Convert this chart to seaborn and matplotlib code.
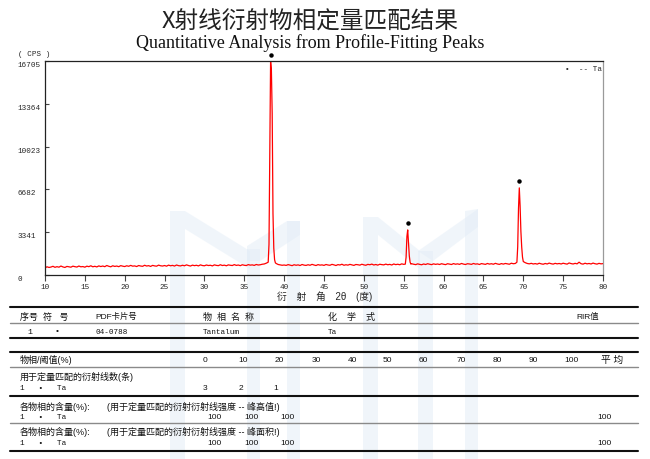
import numpy as np
import pandas as pd
import matplotlib
matplotlib.use('Agg')
import matplotlib.pyplot as plt
import matplotlib.transforms as mtransforms
from matplotlib.lines import Line2D
from matplotlib.patches import Polygon
import seaborn as sns

W, H = 650, 460

# background counts, one value every 0.25 deg (2theta) from 10 to 80
background_cps = [
    560, 640, 590, 620, 680, 600, 650, 610, 700, 630, 590, 670, 640, 610, 690, 650, 620, 700, 640, 660,
    610, 690, 650, 720, 640, 680, 630, 710, 660, 700, 650, 740, 680, 640, 720, 670, 700, 650, 730, 690,
    660, 720, 680, 750, 690, 710, 660, 740, 700, 680, 760, 700, 730, 670, 750, 710, 690, 770, 720, 700,
    740, 690, 770, 720, 750, 700, 780, 730, 710, 760, 720, 790, 740, 700, 770, 730, 760, 710, 790, 740,
    720, 780, 740, 760, 710, 790, 750, 730, 800, 740, 770, 720, 790, 760, 740, 810, 750, 780, 730, 800,
    760, 740, 810, 770, 790, 750, 820, 780, 800, 840, 860, 920, 1000, 1000, 1000, 1000, 900, 820, 790, 760,
    780, 750, 810, 770, 730, 800, 760, 790, 740, 820, 770, 750, 800, 760, 830, 780, 740, 810, 770, 790,
    750, 820, 780, 760, 830, 790, 740, 810, 780, 840, 760, 800, 770, 830, 790, 750, 820, 800, 770, 840,
    790, 760, 830, 800, 850, 780, 820, 770, 840, 810, 790, 850, 800, 830, 780, 860, 810, 840, 800, 870,
    830, 900, 900, 900, 880, 840, 810, 870, 830, 800, 860, 820, 880, 840, 810, 870, 830, 860, 820, 880,
    840, 810, 880, 850, 820, 890, 840, 870, 830, 900, 850, 820, 880, 860, 830, 900, 850, 870, 820, 890,
    860, 830, 900, 850, 880, 840, 910, 860, 830, 890, 850, 900, 870, 840, 920, 880, 900, 900, 900, 900,
    900, 960, 900, 870, 910, 860, 890, 850, 920, 870, 840, 900, 860, 930, 880, 850, 910, 870, 900, 860,
    920, 880, 850, 940, 890, 860, 910, 870, 1000, 880, 850, 920, 870, 900, 860, 930, 880, 850, 910, 870, 890,
]

# Ta peaks
peak1_2theta = [38.0, 38.1, 38.2, 38.3, 38.4, 38.5, 38.6, 38.7, 38.8, 38.9]
peak1_cps = [1000, 2400, 9300, 16705, 16000, 12600, 4800, 2100, 1200, 950]
peak2_2theta = [55.2, 55.3, 55.4, 55.5, 55.6, 55.7, 55.8, 55.9]
peak2_cps = [850, 1400, 3000, 3520, 2500, 1500, 1000, 850]
peak3_2theta = [69.2, 69.3, 69.4, 69.5, 69.6, 69.7, 69.8, 69.9, 70.0]
peak3_cps = [1000, 2200, 5200, 6800, 5400, 3400, 2200, 1400, 1050]

mark_2theta = [38.3, 55.5, 69.5]
mark_cps = [16705, 3520, 6800]

y_ticks = [0, 3341, 6682, 10023, 13364, 16705]
x_ticks = list(range(10, 81, 5))

# table values
thresholds = [0, 10, 20, 30, 40, 50, 60, 70, 80, 90, 100]
line_counts = [3, 2, 1]
content_height = [100, 100, 100]
content_area = [100, 100, 100]
content_avg = 100

# ---- build the profile
two_theta = np.linspace(10, 80, len(background_cps))
bg = np.array(background_cps, dtype=float)
keep = np.ones(len(two_theta), bool)
for pk in (peak1_2theta, peak2_2theta, peak3_2theta):
    keep &= ~((two_theta >= pk[0] - 1e-6) & (two_theta <= pk[-1] + 1e-6))
df = pd.DataFrame({
    'two_theta': np.concatenate([two_theta[keep], peak1_2theta, peak2_2theta, peak3_2theta]),
    'cps': np.concatenate([bg[keep], peak1_cps, peak2_cps, peak3_cps]),
}).sort_values('two_theta')

sns.set_theme(style='white')
plt.rcParams['font.family'] = ['Liberation Sans', 'Noto Sans CJK SC', 'DejaVu Sans']
MONO = ['Liberation Mono', 'DejaVu Sans Mono']
CJK = ['Liberation Sans', 'Noto Sans CJK SC', 'DejaVu Sans']

fig = plt.figure(figsize=(W / 100, H / 100), dpi=100)
fig.patch.set_facecolor('white')


def px(x, y):
    return x / W, 1 - y / H


# faint logo watermark
wm = [
    [(170, 212), (185, 212), (185, 460), (170, 460)],
    [(185, 212), (250, 252), (250, 270), (185, 230)],
    [(247, 250), (260, 250), (260, 460), (247, 460)],
    [(247, 247), (287, 222), (300, 222), (300, 236), (260, 262), (247, 262)],
    [(287, 222), (300, 222), (300, 460), (287, 460)],
    [(363, 218), (378, 218), (378, 460), (363, 460)],
    [(378, 218), (420, 252), (420, 270), (378, 236)],
    [(418, 252), (433, 252), (433, 460), (418, 460)],
    [(418, 252), (478, 210), (478, 228), (433, 262)],
    [(465, 212), (478, 210), (478, 460), (465, 460)],
]
for poly in wm:
    fig.add_artist(Polygon([px(*p) for p in poly], closed=True, transform=fig.transFigure,
                           facecolor='#e3edf7', edgecolor='none', alpha=0.5, zorder=-5))

ax = fig.add_axes([45 / W, 1 - 276 / H, 558 / W, 214 / H])
ax.set_facecolor('none')
sns.lineplot(data=df, x='two_theta', y='cps', color='#ff0000', linewidth=0.9,
             estimator=None, sort=True, ax=ax)
ax.set_xlim(10, 80)
ax.set_ylim(0, 16705)
ax.set_xlabel('')
ax.set_ylabel('')

for side in ('left', 'bottom', 'top'):
    ax.spines[side].set_color('#222222')
    ax.spines[side].set_linewidth(0.9)
ax.spines['right'].set_color('#9a9a9a')
ax.spines['right'].set_linewidth(0.9)

ax.set_xticks(x_ticks)
ax.set_xticklabels([str(t) for t in x_ticks], family=MONO, fontsize=5.5)
ax.set_yticks(y_ticks)
ax.set_yticklabels([str(t) for t in y_ticks], family=MONO, fontsize=5.5, ha='left', va='top')
ax.tick_params(axis='x', bottom=True, direction='out', length=4, width=0.8, color='#444444', pad=1.5)
ax.tick_params(axis='y', left=True, direction='in', length=3, width=0.8, color='#444444', pad=20)

# peak marks
trans = mtransforms.offset_copy(ax.transData, fig=fig, x=0, y=6.5, units='dots')
ax.plot(mark_2theta, mark_cps, 'o', ms=2.2, color='black', transform=trans, clip_on=False)
ax.text(0.932, 0.967, '•  -- Ta', transform=ax.transAxes, fontsize=5.5, family=MONO, va='center')

# titles
fig.text(*px(310, 22), 'X射线衍射物相定量匹配结果', ha='center', va='center',
         fontsize=17, family=['Noto Sans CJK SC'], color='#222222')
fig.text(*px(310, 43), 'Quantitative Analysis from Profile-Fitting Peaks', ha='center', va='center',
         fontsize=13, family=['Liberation Serif'], color='#111111')
fig.text(*px(18, 55), '( CPS )', fontsize=5.5, family=MONO, va='center')
fig.text(*px(325, 297), '衍　射　角　2θ　(度)', ha='center', va='center', fontsize=7, family=CJK)

# table rules
for y in (308, 339, 353, 397, 452):
    fig.add_artist(Line2D([10 / W, 638 / W], [1 - y / H] * 2, color='#111111', lw=1.5))
for y in (324, 368, 424):
    fig.add_artist(Line2D([10 / W, 638 / W], [1 - y / H] * 2, color='#8a8a8a', lw=1.0))


def put(x, y, s, ha='left', size=7, family=CJK):
    fig.text(*px(x, y), s, ha=ha, va='center', fontsize=size, family=family, color='#111111')


put(20, 317, '序号  符   号', size=6.5)
put(95, 317, 'PDF卡片号', size=6)
put(203, 317, '物  相  名  称', size=6.5)
put(328, 317, '化    学    式', size=6.5)
put(588, 317, 'RIR值', ha='center', size=6)

put(30, 332, '1', ha='center', family=MONO, size=6)
put(57, 332, '•', ha='center', family=MONO, size=6)
put(95, 332, '04-0788', family=MONO, size=5.5)
put(203, 332, 'Tantalum', family=MONO, size=5.5)
put(328, 332, 'Ta', family=MONO, size=5.5)

put(20, 360, '物相/阈值(%)', size=6.5)
thr_x = [205, 243, 279, 316, 352, 387, 423, 461, 497, 533, 571]
for x, t in zip(thr_x, thresholds):
    put(x, 360, str(t), ha='center', size=6)
put(612, 360, '平 均', ha='center', size=7)

put(20, 377, '用于定量匹配的衍射线数(条)', size=6.5)
put(20, 389, '1   •   Ta', family=MONO, size=5.5)
for x, c in zip([205, 241, 276], line_counts):
    put(x, 389, str(c), ha='center', size=6)

put(20, 407, '各物相的含量(%):', size=6.5)
put(107, 407, '(用于定量匹配的衍射衍射线强度 -- 峰高值!)', size=6.5)
put(20, 418, '1   •   Ta', family=MONO, size=5.5)
for x, v in zip([214, 251, 287], content_height):
    put(x, 418, str(v), ha='center', size=6)
put(604, 418, str(content_avg), ha='center', size=6)

put(20, 432, '各物相的含量(%):', size=6.5)
put(107, 432, '(用于定量匹配的衍射衍射线强度 -- 峰面积!)', size=6.5)
put(20, 444, '1   •   Ta', family=MONO, size=5.5)
for x, v in zip([214, 251, 287], content_area):
    put(x, 444, str(v), ha='center', size=6)
put(604, 444, str(content_avg), ha='center', size=6)

fig.savefig('out.png', dpi=100, facecolor='white')
